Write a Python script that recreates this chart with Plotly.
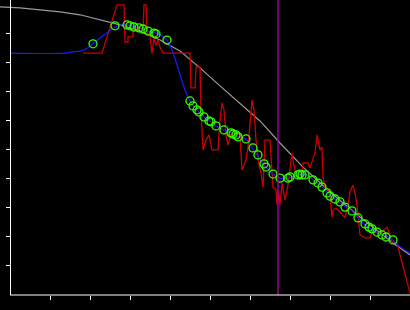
import plotly.graph_objects as go

# Gray reference curve
gray_x = [-0.25, 0.25, 0.75, 1.25, 1.75, 2.25, 2.75, 3.25, 3.75, 4.25, 4.75, 5.25, 5.75, 6.25, 6.75, 7.325, 8.0, 8.75, 9.575, 10.0]
gray_y = [9.93, 9.90, 9.83, 9.76, 9.66, 9.48, 9.31, 9.10, 8.79, 8.41, 7.83, 7.21, 6.59, 6.00, 5.24, 4.41, 3.55, 2.69, 1.79, 1.38]

# Blue smoothed curve
blue_x = [0, 1.375, 1.55, 1.75, 1.9, 2.075, 2.25, 2.45, 2.625, 2.775, 2.95, 3.125, 3.3, 3.45, 3.65, 3.825, 3.925,
          4.05, 4.175, 4.275, 4.375, 4.5, 4.575, 4.725, 4.85, 5.0, 5.15, 5.35, 5.55, 5.7, 5.9, 6.05, 6.175, 6.35,
          6.575, 6.75, 6.95, 7.2, 7.425, 7.575, 7.8, 8.0, 8.25, 8.55, 8.7, 8.875, 9.175, 9.5, 9.75, 10.0]
blue_y = [8.34, 8.34, 8.38, 8.41, 8.48, 8.66, 8.86, 9.07, 9.24, 9.31, 9.31, 9.24, 9.21, 9.10, 9.03, 8.90, 8.79,
          8.45, 7.93, 7.48, 7.07, 6.69, 6.52, 6.31, 6.14, 6.00, 5.83, 5.69, 5.59, 5.45, 5.38, 5.07, 4.83, 4.48,
          4.17, 4.03, 4.03, 4.14, 4.14, 3.97, 3.72, 3.45, 3.17, 2.90, 2.66, 2.41, 2.17, 1.97, 1.66, 1.45]

# Green observation markers
green_x = [2.075, 2.625, 2.925, 3.0, 3.1, 3.225, 3.325, 3.45, 3.6, 3.65, 3.925, 4.5, 4.575, 4.675, 4.725, 4.85,
           4.975, 5.025, 5.15, 5.35, 5.525, 5.575, 5.65, 5.7, 5.9, 6.075, 6.2, 6.35, 6.4, 6.575, 6.75, 6.95, 7.0,
           7.2, 7.25, 7.3, 7.375, 7.575, 7.7, 7.8, 7.925, 8.0, 8.125, 8.25, 8.375, 8.55, 8.7, 8.875, 8.975, 9.05,
           9.175, 9.3, 9.4, 9.575]
green_y = [8.66, 9.28, 9.31, 9.28, 9.24, 9.21, 9.17, 9.10, 9.03, 9.00, 8.79, 6.69, 6.52, 6.38, 6.31, 6.14,
           6.00, 5.97, 5.83, 5.69, 5.59, 5.55, 5.52, 5.45, 5.38, 5.07, 4.83, 4.52, 4.41, 4.17, 4.03, 4.03, 4.07,
           4.14, 4.17, 4.14, 4.14, 3.97, 3.86, 3.72, 3.52, 3.41, 3.31, 3.21, 3.03, 2.90, 2.66, 2.45, 2.34, 2.28,
           2.17, 2.07, 2.00, 1.90]

# Red raw signal
red_x = [1.825, 2.3, 2.675, 2.85, 2.875, 2.95, 2.95, 3.075, 3.075, 3.25, 3.325, 3.35, 3.4, 3.425, 3.5, 3.55,
         3.6, 3.65, 3.7, 3.75, 3.825, 4.5, 4.525, 4.625, 4.65, 4.75, 4.775, 4.825, 4.9, 4.975, 5.05, 5.2, 5.25,
         5.3, 5.35, 5.4, 5.45, 5.525, 5.675, 5.75, 5.8, 5.85, 5.9, 5.95, 6.0, 6.05, 6.1, 6.15, 6.225, 6.275,
         6.325, 6.35, 6.375, 6.5, 6.55, 6.575, 6.65, 6.675, 6.7, 6.75, 6.8, 6.85, 6.875, 6.95, 7.0, 7.05, 7.075,
         7.125, 7.2, 7.3, 7.325, 7.45, 7.5, 7.575, 7.625, 7.675, 7.7, 7.75, 7.8, 7.825, 7.875, 7.95, 8.0, 8.05,
         8.075, 8.15, 8.25, 8.325, 8.375, 8.45, 8.5, 8.575, 8.625, 8.675, 8.7, 8.75, 8.875, 9.0, 9.05, 9.15,
         9.3, 9.425, 9.475, 9.55, 9.675, 10.0]
red_y = [8.34, 8.34, 10.0, 10.0, 8.72, 8.72, 8.90, 8.90, 9.21, 9.21, 9.14, 10.0, 10.0, 9.07, 8.90, 8.34,
         8.86, 8.62, 8.79, 8.55, 8.34, 8.34, 7.14, 7.14, 7.86, 7.86, 6.38, 5.00, 5.34, 5.52, 5.00, 5.00, 6.03,
         6.62, 6.38, 5.52, 5.17, 5.52, 5.59, 5.52, 4.31, 4.48, 4.66, 5.10, 5.86, 6.72, 6.38, 5.34, 4.48, 4.21,
         3.72, 4.66, 5.34, 5.34, 4.31, 3.72, 3.62, 3.10, 3.62, 3.10, 3.86, 3.45, 3.28, 3.79, 4.31, 4.90, 4.66,
         4.31, 3.97, 4.03, 4.55, 4.55, 4.38, 4.66, 4.90, 5.52, 5.34, 5.00, 5.10, 4.07, 3.72, 3.62, 3.38, 2.69,
         2.93, 3.00, 2.86, 2.76, 2.66, 3.10, 3.55, 3.79, 3.52, 3.10, 2.66, 2.07, 1.97, 1.97, 2.17, 2.14,
         2.17, 2.34, 2.17, 1.79, 1.79, 0.07]

marker_line_x = [6.7]
x_ticks = [1, 2, 3, 4, 5, 6, 7, 8, 9]
y_ticks = [1, 2, 3, 4, 5, 6, 7, 8, 9]
x_range = [-0.25, 10]
y_range = [0, 10.17]

fig = go.Figure()
fig.add_trace(go.Scatter(x=gray_x, y=gray_y, mode="lines", line=dict(color="#9a9a9a", width=1.2), hoverinfo="skip"))
fig.add_trace(go.Scatter(x=red_x, y=red_y, mode="lines", line=dict(color="#cc0000", width=1.3), hoverinfo="skip"))
fig.add_trace(go.Scatter(x=blue_x, y=blue_y, mode="lines", line=dict(color="#1a1aff", width=1.2, shape="spline"), hoverinfo="skip"))
fig.add_trace(go.Scatter(x=green_x, y=green_y, mode="markers",
                         marker=dict(symbol="circle-open", size=8, color="#33ff00", line=dict(width=1.3, color="#33ff00")),
                         hoverinfo="skip"))

for xv in marker_line_x:
    fig.add_vline(x=xv, line=dict(color="#990099", width=1.5))

# bottom axis line starting at the y-axis
fig.add_shape(type="line", xref="x", yref="paper", x0=0, x1=x_range[1], y0=0, y1=0,
              line=dict(color="white", width=1.2))

fig.update_layout(
    width=410, height=310,
    margin=dict(l=0, r=0, t=0, b=15),
    paper_bgcolor="#000000", plot_bgcolor="#000000",
    showlegend=False,
    xaxis=dict(range=x_range, tickvals=x_ticks, ticks="outside", ticklen=4, tickwidth=1.2, tickcolor="white",
               showticklabels=False, showgrid=False, zeroline=False, showline=False),
    yaxis=dict(range=y_range, tickvals=y_ticks, ticks="outside", ticklen=4, tickwidth=1.2, tickcolor="white",
               showticklabels=False, showgrid=False, zeroline=False, showline=True, linecolor="white", linewidth=1.2,
               anchor="free", position=10 / 410),
)

fig.write_html("out.html")
